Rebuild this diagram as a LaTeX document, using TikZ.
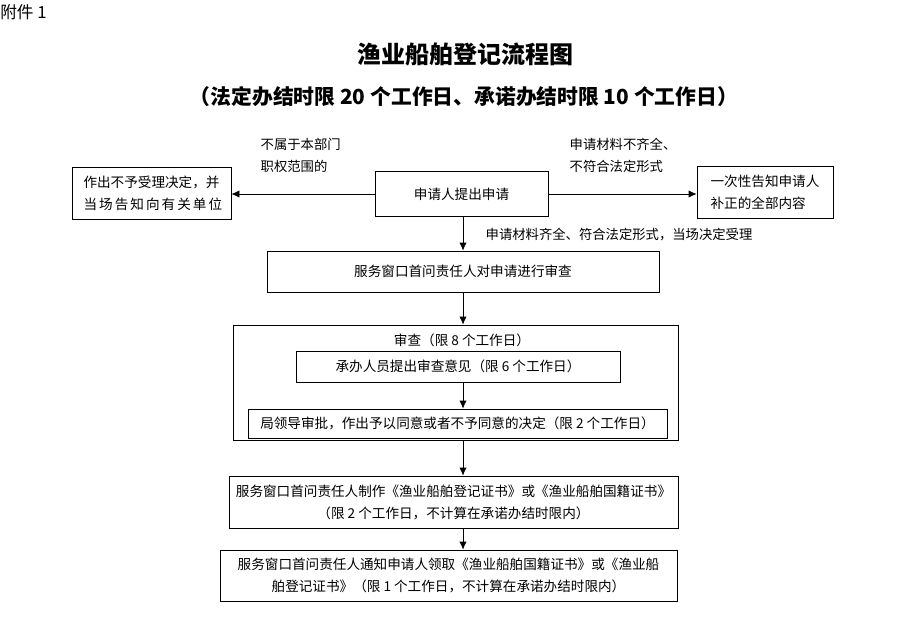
\documentclass[tikz,border=0pt]{standalone}
\usepackage{fontspec}
\setmainfont{Noto Sans CJK SC}
\usepackage{tikz}
\usetikzlibrary{arrows,arrows.meta,positioning,calc}

\begin{document}
\begin{tikzpicture}[x=0.75pt, y=-0.75pt,
    box/.style={draw=black, line width=0.6pt, inner sep=0pt, align=center, font=\fontsize{10.2}{16.5}\selectfont},
    size/.style 2 args={minimum width=#1*0.75pt, minimum height=#2*0.75pt},
    lbl/.style={align=left, font=\fontsize{10}{16}\selectfont},
    arr/.style={line width=0.6pt, -{Latex[length=6pt,width=5.5pt]}}]
    \useasboundingbox (0,0) rectangle (902,621);

    % Intestazione
    \node[anchor=west, inner sep=0pt, font=\fontsize{12.5}{12.5}\selectfont] (annex) at (0,12) {附件 1};
    \node[font=\fontsize{18}{18}\selectfont\bfseries] (title) at (465,55) {渔业船舶登记流程图};
    \node[font=\fontsize{15.6}{16}\selectfont\bfseries] (subtitle) at (464,97) {（法定办结时限 20 个工作日、承诺办结时限 10 个工作日）};

    % Asse verticale delle frecce
    \coordinate (axis) at (463,0);

    % Domanda
    \node[box, size={173}{45}] (apply) at (461.5,194) {申请人提出申请};
    \node[box, size={159}{52}, align=left] (reject) at (151.5,193)
        {作出不予受理决定，并\\\makebox[100pt][s]{当 场 告 知 向 有 关 单 位}};
    \node[box, size={136}{52}, align=left] (notify) at (765,192) {一次性告知申请人\\补正的全部内容};
    \draw[arr] (apply.west) -- (apply.west -| reject.east);
    \draw[arr] (apply.east) -- (apply.east -| notify.west);
    \node[lbl, anchor=west] (outscope) at (256,155.5) {不属于本部门\\职权范围的};
    \node[lbl, anchor=west] (incomplete) at (565,155.5) {申请材料不齐全、\\不符合法定形式};

    % Accettazione
    \node[box, size={392}{41}] (review) at (463,271.5) {服务窗口首问责任人对申请进行审查};
    \draw[arr] (axis |- apply.south) -- (axis |- review.north);
    \node[lbl, anchor=west] (accepted) at (481,235) {申请材料齐全、符合法定形式，当场决定受理};

    % Esame
    \node[box, size={445}{115}] (exam) at (455.5,382.5) {};
    \node[font=\fontsize{10.2}{12}\selectfont] (examtitle) at (462,340) {审查（限 8 个工作日）};
    \node[box, size={324}{31}] (opinion) at (458,366.5) {承办人员提出审查意见（限 6 个工作日）};
    \node[box, size={419}{29}] (approve) at (457.5,423.5) {局领导审批，作出予以同意或者不予同意的决定（限 2 个工作日）};
    \draw[arr] (axis |- review.south) -- (axis |- exam.north);
    \draw[arr] (axis |- opinion.south) -- (axis |- approve.north);

    % Certificati
    \node[box, size={449}{52}] (make) at (453.5,502)
        {服务窗口首问责任人制作《渔业船舶登记证书》或《渔业船舶国籍证书》\\（限 2 个工作日，不计算在承诺办结时限内）};
    \node[box, size={457}{51}] (issue) at (448.5,575.5)
        {服务窗口首问责任人通知申请人领取《渔业船舶国籍证书》或《渔业船\\舶登记证书》（限 1 个工作日，不计算在承诺办结时限内）};
    \draw[arr] (axis |- exam.south) -- (axis |- make.north);
    \draw[arr] (axis |- make.south) -- (axis |- issue.north);
\end{tikzpicture}
\end{document}
